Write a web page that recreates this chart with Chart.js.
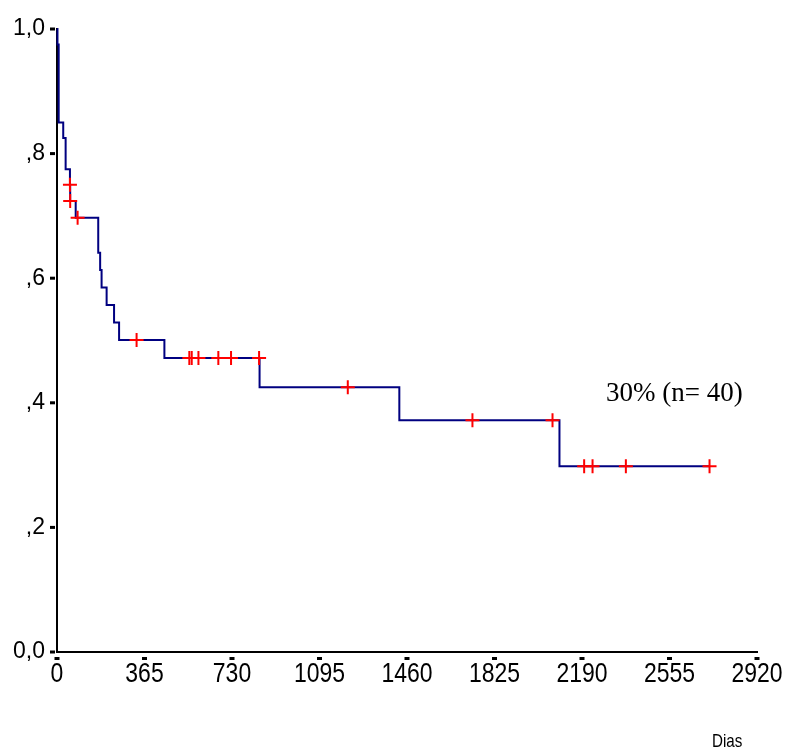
<!DOCTYPE html>
<html>
<head>
<meta charset="utf-8">
<script src="https://cdn.jsdelivr.net/npm/chart.js@4.4.0/dist/chart.umd.min.js"></script>
<style>
  html, body { margin: 0; padding: 0; background: #fff; }
  #wrap { width: 787px; height: 752px; }
</style>
</head>
<body>
<div id="wrap"><canvas id="miGrafica" width="787" height="752"></canvas></div>
<script>
// curva de supervivencia (dias, proporcion)
var diasEvento = [0, 2, 7, 26, 36, 54, 55, 78, 172, 180, 186, 207, 238, 259, 448, 845, 1428, 2096, 2723];
var supervivencia = [1.0, 0.975, 0.85, 0.825, 0.775, 0.75, 0.724, 0.697, 0.641, 0.613, 0.585, 0.557, 0.529, 0.501, 0.472, 0.425, 0.372, 0.298, 0.298];

// censurados
var diasCensura = [54, 55, 86, 332, 552, 562, 590, 673, 726, 843, 1213, 1733, 2067, 2199, 2234, 2373, 2722];
var valorCensura = [0.75, 0.724, 0.697, 0.501, 0.472, 0.472, 0.472, 0.472, 0.472, 0.472, 0.425, 0.372, 0.372, 0.298, 0.298, 0.298, 0.298];

var ticksDias = [0, 365, 730, 1095, 1460, 1825, 2190, 2555, 2920];
var ticksY = [0, 0.2, 0.4, 0.6, 0.8, 1.0];
var etiquetasY = ["0,0", ",2", ",4", ",6", ",8", "1,0"];

var textoResumen = "30% (n= 40)";
var tituloX = "Dias";

var puntosCurva = [];
for (var i = 0; i < diasEvento.length; i++) {
  puntosCurva.push({ x: diasEvento[i], y: supervivencia[i] });
}
var puntosCensura = [];
for (var j = 0; j < diasCensura.length; j++) {
  puntosCensura.push({ x: diasCensura[j], y: valorCensura[j] });
}

// texto estrecho (no hay Arial Narrow): se comprime en horizontal
function textoEstrecho(ctx, txt, cx, y, size, align) {
  var f = 0.82;
  ctx.save();
  ctx.font = size + 'px "Liberation Sans", Arial, sans-serif';
  ctx.textBaseline = 'alphabetic';
  ctx.textAlign = align;
  ctx.translate(cx, y);
  ctx.scale(f, 1);
  ctx.fillText(txt, 0, 0);
  ctx.restore();
}

// marcas cuadradas de los ticks, etiquetas del eje x y textos sueltos
var extras = {
  id: 'extras',
  afterDraw: function(chart) {
    var ctx = chart.ctx;
    var xs = chart.scales.x;
    var ys = chart.scales.y;
    ctx.save();
    ctx.fillStyle = '#000';
    ticksY.forEach(function(v) {
      var py = ys.getPixelForValue(v);
      ctx.fillRect(xs.left - 7, py - 1.5, 5, 3);
    });
    ticksDias.forEach(function(v) {
      var px = xs.getPixelForValue(v);
      ctx.fillRect(px - 2.5, ys.bottom + 5, 5, 3);
      textoEstrecho(ctx, String(v), px, ys.bottom + 30, 28, 'center');
    });
    ctx.font = '27px "Liberation Serif", "Times New Roman", serif';
    ctx.textBaseline = 'alphabetic';
    ctx.textAlign = 'left';
    ctx.fillText(textoResumen, 606, 401);
    textoEstrecho(ctx, tituloX, 712, 747, 18.5, 'left');
    ctx.restore();
  }
};

var chart = new Chart(document.getElementById("miGrafica").getContext("2d"), {
  type: 'scatter',
  data: {
    datasets: [
      {
        label: 'Supervivencia',
        data: puntosCurva,
        showLine: true,
        stepped: 'before',
        borderColor: '#000080',
        borderWidth: 2,
        pointRadius: 0,
        clip: false,
        order: 2
      },
      {
        label: 'Censurados',
        data: puntosCensura,
        pointStyle: 'cross',
        pointRadius: 7,
        pointBorderWidth: 2,
        borderColor: '#ff0000',
        backgroundColor: '#ff0000',
        clip: false,
        order: 1
      }
    ]
  },
  options: {
    responsive: false,
    animation: false,
    layout: { padding: { top: 29, right: 30, left: 0, bottom: 0 } },
    plugins: { legend: { display: false }, tooltip: { enabled: false } },
    scales: {
      x: {
        type: 'linear',
        min: 0,
        max: 2920,
        afterBuildTicks: function(s) { s.ticks = ticksDias.map(function(v) { return { value: v }; }); },
        afterFit: function(s) { s.height = 100; },
        grid: { display: true, drawOnChartArea: false, drawTicks: false },
        border: { display: true, color: '#000', width: 2 },
        ticks: { display: false }
      },
      y: {
        type: 'linear',
        min: 0,
        max: 1,
        afterBuildTicks: function(s) { s.ticks = ticksY.map(function(v) { return { value: v }; }); },
        afterFit: function(s) { s.width = 57; },
        grid: { display: true, drawOnChartArea: false, drawTicks: false },
        border: { display: true, color: '#000', width: 2 },
        ticks: {
          color: '#000',
          padding: 12,
          autoSkip: false,
          font: { family: '"Liberation Sans", Arial, sans-serif', size: 23 },
          callback: function(v) {
            var k = ticksY.indexOf(v);
            return k >= 0 ? etiquetasY[k] : '';
          }
        }
      }
    }
  },
  plugins: [extras]
});
</script>
</body>
</html>
